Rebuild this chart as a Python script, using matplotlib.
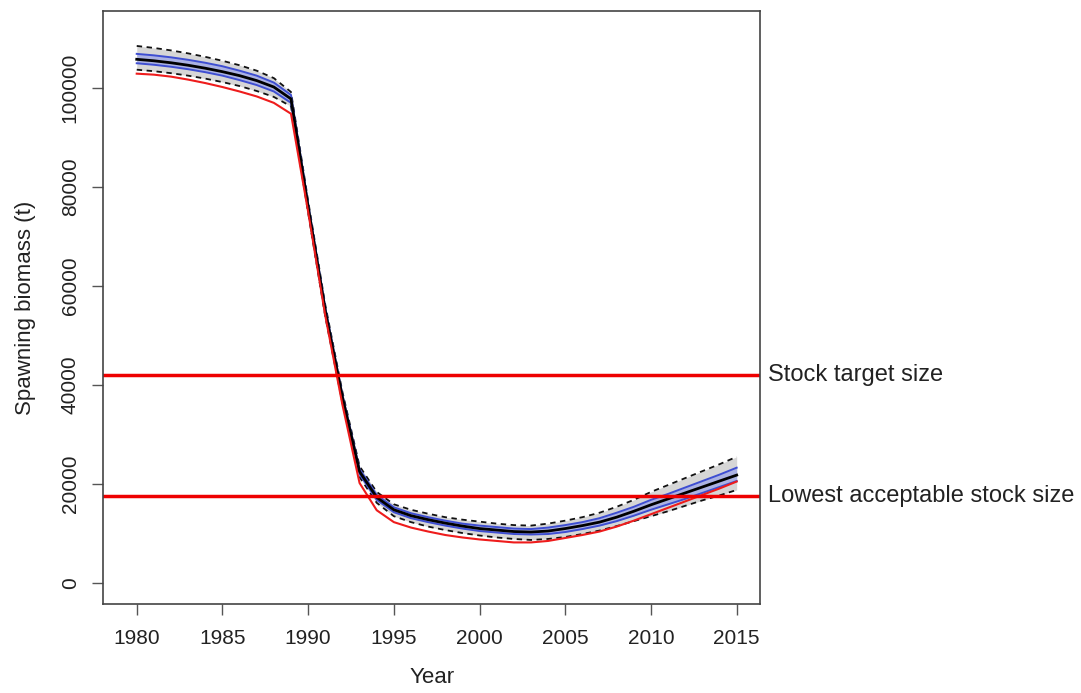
import numpy as np
import matplotlib.pyplot as plt
from matplotlib import transforms

plt.rcParams['font.family'] = ['Liberation Sans', 'DejaVu Sans']

years = list(range(1980, 2016))

# median estimate (black)
median = [105800, 105500, 105100, 104600, 104000, 103300, 102500, 101500, 100200, 97800,
          76000, 55000, 37500, 22500, 17300, 14800, 13600, 12800, 12100, 11500,
          11000, 10700, 10400, 10300, 10500, 11000, 11600, 12300, 13300, 14500,
          15800, 17000, 18200, 19400, 20600, 21800]

# outer interval (dashed, grey band)
outer_hi = [108500, 108100, 107600, 107000, 106300, 105500, 104600, 103500, 102000, 99200,
            77200, 56200, 38600, 23600, 18400, 15900, 14800, 14000, 13300, 12800,
            12400, 12000, 11700, 11600, 12000, 12600, 13300, 14200, 15400, 16800,
            18400, 19800, 21200, 22600, 24000, 25500]
outer_lo = [103700, 103400, 103000, 102500, 101900, 101200, 100400, 99400, 98200, 96300,
            74800, 53800, 36400, 21400, 16200, 13500, 12300, 11400, 10700, 10100,
            9600, 9200, 8900, 8700, 8900, 9300, 9900, 10600, 11500, 12500,
            13500, 14500, 15600, 16700, 17700, 18800]

# inner interval (blue)
inner_hi = [106900, 106600, 106200, 105700, 105100, 104400, 103500, 102500, 101100, 98600,
            76600, 55600, 38000, 23000, 17800, 15300, 14100, 13300, 12600, 12000,
            11600, 11300, 11000, 10900, 11200, 11700, 12300, 13100, 14200, 15400,
            16800, 18000, 19300, 20600, 21900, 23300]
inner_lo = [105000, 104700, 104300, 103800, 103200, 102500, 101600, 100600, 99300, 97000,
            75400, 54400, 37000, 22000, 16800, 14300, 13100, 12300, 11600, 11000,
            10500, 10200, 9900, 9800, 9900, 10300, 10900, 11600, 12500, 13600,
            14800, 15900, 17000, 18200, 19400, 20600]

# alternative run (red)
alt = [102900, 102700, 102300, 101700, 101000, 100200, 99300, 98300, 97000, 94800,
       75000, 54000, 36000, 20200, 14700, 12300, 11200, 10400, 9700, 9200,
       8800, 8500, 8200, 8200, 8500, 9100, 9700, 10400, 11400, 12600,
       13900, 15200, 16500, 17800, 19100, 20500]

ref_levels = [42000, 17600]
ref_labels = ['Stock target size', 'Lowest acceptable stock size']

fig = plt.figure(figsize=(10.81, 6.93), dpi=100)
ax = fig.add_axes([103.3 / 1081, 89 / 693, (760 - 103.3) / 1081, (604 - 11) / 693])

ax.fill_between(years, outer_lo, outer_hi, color='#d6d6d6', lw=0)
ax.fill_between(years, inner_lo, inner_hi, color='#a4ace6', lw=0, alpha=0.85)
ax.plot(years, outer_hi, color='#111111', ls=(0, (3, 2.5)), lw=1.3)
ax.plot(years, outer_lo, color='#111111', ls=(0, (3, 2.5)), lw=1.3)
ax.plot(years, inner_hi, color='#3e4ed2', lw=1.4)
ax.plot(years, inner_lo, color='#3e4ed2', lw=1.4)
ax.plot(years, median, color='black', lw=2)
ax.plot(years, alt, color='#ee1c1c', lw=1.5)

trans = transforms.blended_transform_factory(ax.transAxes, ax.transData)
for lvl, lab in zip(ref_levels, ref_labels):
    ax.axhline(lvl, color='#ee0000', lw=2.5)
    ax.text(1.012, lvl, lab, transform=trans, va='center', ha='left',
            fontsize=17, color='#222222', clip_on=False)

ax.set_xlim(1978.05, 2016.36)
ax.set_ylim(-4240, 115560)
ax.set_xticks(range(1980, 2016, 5))
ax.set_yticks(range(0, 100001, 20000))
ax.set_yticklabels([str(v) for v in range(0, 100001, 20000)], rotation=90, va='center')
ax.tick_params(direction='out', length=8, width=1, color='#555555',
               labelsize=15, labelcolor='#222222')
ax.tick_params(axis='x', pad=10)
ax.tick_params(axis='y', pad=9)
for sp in ax.spines.values():
    sp.set_color('#444444')
    sp.set_linewidth(1.2)

ax.set_xlabel('Year', fontsize=16, color='#222222', labelpad=14)
ax.set_ylabel('Spawning biomass (t)', fontsize=16, color='#222222', labelpad=18)

fig.savefig('out.png', dpi=100)
